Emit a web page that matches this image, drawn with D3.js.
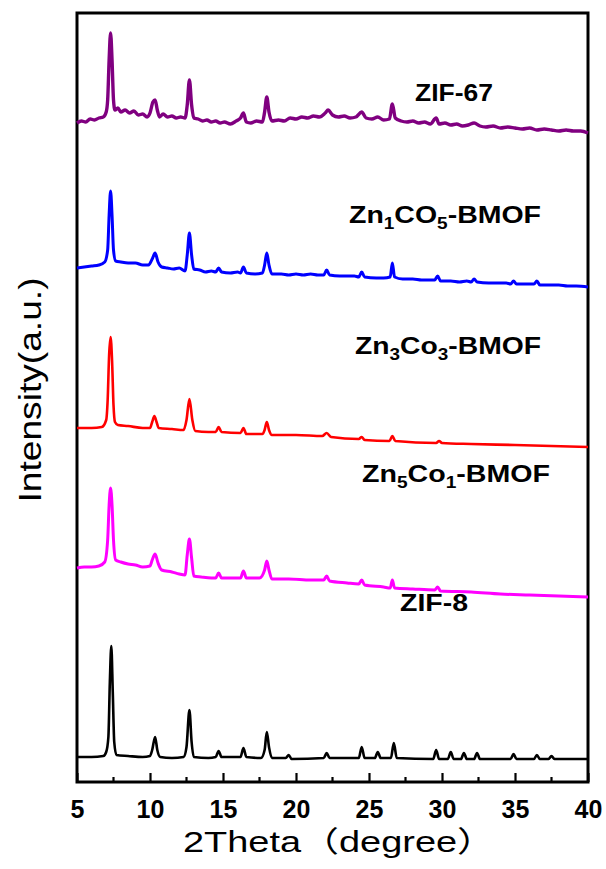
<!DOCTYPE html>
<html>
<head>
<meta charset="utf-8">
<script src="https://cdn.jsdelivr.net/npm/d3@7"></script>
<style>
  html, body { margin: 0; padding: 0; background: #fff; }
  svg { display: block; font-family: "Liberation Sans", Arial, "Noto Sans CJK SC", sans-serif; }
</style>
</head>
<body>
<div id="chart"></div>
<script>
// x ticks (2Theta, degree)
const xTicks = [5, 10, 15, 20, 25, 30, 35, 40];
const xMinorTicks = [7.5, 12.5, 17.5, 22.5, 27.5, 32.5, 37.5];

// series names, split into [text, isSubscript] parts
const seriesNames = ["ZIF-67", "Zn1CO5-BMOF", "Zn3Co3-BMOF", "Zn5Co1-BMOF", "ZIF-8"];
const seriesLabelParts = [
    [["ZIF-67", false]],
    [["Zn", false], ["1", true], ["CO", false], ["5", true], ["-BMOF", false]],
    [["Zn", false], ["3", true], ["Co", false], ["3", true], ["-BMOF", false]],
    [["Zn", false], ["5", true], ["Co", false], ["1", true], ["-BMOF", false]],
    [["ZIF-8", false]]
];
const seriesColors = ["#800080", "#0000ff", "#ff0000", "#ff00ff", "#000000"];

// patterns as stacked in the figure: [2theta, intensity (a.u.)]
const zif67 = [
    [5, 659], [5.3, 661], [5.6, 660], [5.9, 663], [6.2, 662], [6.5, 664], [6.8, 665], [7.0, 670],
    [7.1, 682], [7.2, 722], [7.3, 749], [7.4, 722], [7.5, 682], [7.6, 672], [7.8, 674], [8.0, 670],
    [8.3, 672], [8.6, 669], [8.9, 671], [9.2, 667], [9.5, 668], [9.8, 665], [10.0, 669], [10.2, 680],
    [10.35, 682], [10.5, 672], [10.65, 665], [10.9, 668], [11.2, 665], [11.5, 666], [11.8, 664],
    [12.1, 665], [12.4, 664], [12.55, 677], [12.7, 702], [12.85, 677], [13.0, 664], [13.3, 663],
    [13.6, 661], [13.9, 662], [14.2, 660], [14.5, 661], [14.8, 659], [15.1, 660], [15.5, 658],
    [15.9, 661], [16.2, 664], [16.4, 669], [16.6, 660], [16.9, 659], [17.3, 661], [17.7, 660],
    [17.85, 670], [18.0, 685], [18.15, 670], [18.35, 661], [18.8, 662], [19.2, 661], [19.6, 664],
    [20.0, 663], [20.4, 665], [20.8, 664], [21.2, 666], [21.6, 665], [22.0, 669], [22.2, 672],
    [22.5, 667], [22.9, 665], [23.3, 666], [23.7, 664], [24.1, 665], [24.5, 670], [24.8, 664],
    [25.2, 663], [25.6, 665], [26.0, 662], [26.4, 663], [26.6, 678], [26.8, 664], [27.2, 661],
    [27.6, 660], [28.0, 661], [28.4, 659], [28.8, 660], [29.2, 658], [29.6, 664], [29.8, 658],
    [30.2, 659], [30.6, 657], [31.0, 658], [31.4, 656], [31.8, 657], [32.2, 659], [32.6, 656],
    [33.0, 655], [33.5, 656], [34.0, 654], [34.5, 655], [35.0, 654], [35.5, 653], [36.0, 654],
    [36.5, 652], [37.0, 653], [37.5, 652], [38.0, 651], [38.5, 652], [39.0, 651], [39.5, 651], [40, 649]
];
const zn1co5 = [
    [5, 514], [5.5, 515], [6.0, 516], [6.5, 517], [6.9, 520], [7.1, 532], [7.2, 567], [7.3, 591],
    [7.4, 567], [7.5, 532], [7.65, 521], [8.0, 520], [8.5, 519], [9.0, 519], [9.5, 517], [9.9, 517],
    [10.15, 523], [10.35, 529], [10.55, 520], [10.8, 515], [11.2, 514], [11.6, 513], [12.0, 514],
    [12.4, 511], [12.55, 527], [12.7, 549], [12.85, 527], [13.0, 513], [13.4, 512], [13.8, 510],
    [14.2, 511], [14.5, 510], [14.7, 514], [14.9, 510], [15.5, 509], [16.0, 510], [16.2, 509],
    [16.4, 515], [16.6, 509], [17.2, 508], [17.7, 509], [17.85, 517], [18.0, 529], [18.15, 517],
    [18.35, 508], [19.0, 508], [19.5, 507], [20.0, 508], [20.5, 507], [21.0, 508], [21.5, 507],
    [21.9, 507], [22.1, 512], [22.3, 507], [23.0, 506], [23.5, 506], [24.0, 506], [24.3, 505],
    [24.5, 510], [24.7, 505], [25.5, 504], [26.0, 504], [26.45, 505], [26.6, 519], [26.75, 505],
    [27.3, 503], [28.0, 503], [28.6, 502], [29.2, 502], [29.5, 502], [29.7, 506], [29.9, 501],
    [30.6, 501], [31.2, 500], [31.7, 501], [32.0, 500], [32.2, 503], [32.4, 500], [33.2, 499],
    [33.8, 499], [34.4, 499], [34.7, 498], [34.9, 501], [35.1, 498], [35.9, 498], [36.3, 498],
    [36.5, 501], [36.7, 497], [37.4, 497], [38.0, 497], [38.6, 496], [39.2, 496], [40, 495]
];
const zn3co3 = [
    [5, 354], [6, 354], [6.7, 355], [7.0, 362], [7.1, 382], [7.2, 427], [7.3, 445], [7.4, 422],
    [7.5, 377], [7.6, 360], [7.8, 357], [8.5, 356], [9.5, 354], [10.0, 354], [10.15, 360],
    [10.3, 366], [10.45, 360], [10.6, 354], [11.5, 353], [12.3, 352], [12.5, 362], [12.7, 383],
    [12.9, 362], [13.1, 351], [14.0, 350], [14.5, 350], [14.7, 355], [14.9, 350], [16.2, 349],
    [16.4, 354], [16.6, 348], [17.7, 348], [17.85, 352], [18.0, 360], [18.15, 352], [18.35, 347],
    [20.0, 347], [21.8, 346], [22.1, 349], [22.4, 345], [24.3, 343], [24.5, 345], [24.7, 342],
    [26.4, 341], [26.6, 346], [26.8, 341], [29.6, 339], [29.8, 341], [30.0, 339], [32, 338],
    [35, 337], [37.5, 336], [40, 335]
];
const zn5co1 = [
    [5, 214], [5.5, 215], [6.0, 215], [6.5, 216], [6.9, 220], [7.1, 242], [7.2, 277], [7.3, 294],
    [7.4, 277], [7.5, 242], [7.65, 222], [8.0, 220], [8.5, 218], [9.0, 217], [9.5, 215], [10.0, 216],
    [10.15, 222], [10.35, 228], [10.55, 219], [10.8, 212], [11.5, 210], [12.0, 208], [12.4, 207],
    [12.55, 227], [12.7, 243], [12.85, 224], [13.0, 206], [13.5, 205], [14.2, 204], [14.5, 204],
    [14.7, 209], [14.9, 204], [15.8, 204], [16.2, 204], [16.4, 211], [16.6, 204], [17.5, 204],
    [17.85, 212], [18.0, 221], [18.15, 212], [18.35, 203], [19.5, 203], [21.0, 202], [21.9, 202],
    [22.1, 206], [22.3, 201], [23.5, 199], [24.3, 198], [24.5, 202], [24.7, 197], [26.0, 195],
    [26.45, 194], [26.6, 202], [26.75, 194], [28.0, 193], [29.5, 192], [29.7, 195], [29.9, 191],
    [32.0, 190], [34.0, 188], [36.0, 187], [38.0, 186], [40, 185]
];
const zif8 = [
    [5, 25], [6, 25], [6.8, 26], [7.0, 30], [7.15, 45], [7.25, 100], [7.35, 136], [7.45, 90],
    [7.55, 40], [7.7, 27], [8.5, 26], [9.5, 25], [10.0, 26], [10.15, 32], [10.35, 45], [10.5, 32],
    [10.7, 25], [11.5, 24], [12.3, 25], [12.5, 35], [12.7, 72], [12.85, 40], [13.0, 25], [14.0, 24],
    [14.5, 25], [14.7, 31], [14.9, 25], [16.2, 25], [16.4, 34], [16.6, 25], [17.6, 24], [17.85, 32],
    [18.0, 50], [18.15, 35], [18.35, 24], [19.3, 24], [19.5, 27], [19.7, 23], [21.9, 24], [22.1, 29],
    [22.3, 24], [24.3, 24], [24.5, 35], [24.7, 24], [25.4, 24], [25.6, 30], [25.8, 24], [26.5, 24],
    [26.7, 39], [26.9, 24], [29.4, 23], [29.6, 32], [29.8, 23], [30.4, 23], [30.6, 30], [30.8, 23],
    [31.3, 23], [31.5, 29], [31.7, 23], [32.2, 23], [32.4, 29], [32.6, 23], [34.7, 23], [34.9, 28],
    [35.1, 23], [36.3, 23], [36.5, 27], [36.7, 23], [37.3, 23], [37.5, 26], [37.7, 23], [40, 23]
];
const seriesData = [zif67, zn1co5, zn3co3, zn5co1, zif8];

// layout
const W = 606, H = 869;
const margin = { left: 77, right: 18, top: 13, bottom: 87 };
const frameWidth = 3;
const lineWidths = [3.4, 3, 2.6, 3, 2.6];
const labelPos = [
    { x: 415, y: 101, len: 78 },
    { x: 349, y: 223, len: 192 },
    { x: 355, y: 354, len: 186 },
    { x: 362, y: 482, len: 188 },
    { x: 400, y: 611, len: 68 }
];

const svg = d3.select('#chart').append('svg')
    .attr('width', W)
    .attr('height', H);

const x = d3.scaleLinear().domain([5, 40]).range([margin.left, W - margin.right]);
const y = d3.scaleLinear().domain([0, 769]).range([H - margin.bottom, margin.top]);
const [xl, xr] = x.range();
const [yBot, yTop] = y.range();

// frame: black box with a white box inside
svg.append('rect')
    .attr('x', xl - frameWidth / 2)
    .attr('y', yTop - frameWidth / 2)
    .attr('width', xr - xl + frameWidth)
    .attr('height', yBot - yTop + frameWidth)
    .attr('fill', '#000');
svg.append('rect')
    .attr('x', xl + frameWidth / 2)
    .attr('y', yTop + frameWidth / 2)
    .attr('width', xr - xl - frameWidth)
    .attr('height', yBot - yTop - frameWidth)
    .attr('fill', '#fff');

// patterns
const line = d3.line()
    .x(d => x(d[0]))
    .y(d => y(d[1]))
    .curve(d3.curveMonotoneX);

seriesData.forEach((data, i) => {
    svg.append('path')
        .datum(data)
        .attr('fill', 'none')
        .attr('stroke', seriesColors[i])
        .attr('stroke-width', lineWidths[i])
        .attr('stroke-linejoin', 'round')
        .attr('d', line);
});

// series labels
seriesLabelParts.forEach((parts, i) => {
    const t = svg.append('text')
        .attr('x', labelPos[i].x)
        .attr('y', labelPos[i].y)
        .attr('font-size', 24)
        .attr('font-weight', 'bold')
        .attr('fill', '#000')
        .attr('textLength', labelPos[i].len)
        .attr('lengthAdjust', 'spacingAndGlyphs');
    let shifted = false;
    parts.forEach(([s, sub]) => {
        const span = t.append('tspan').text(s);
        if (sub && !shifted) { span.attr('dy', 6).attr('font-size', 16); shifted = true; }
        else if (sub) { span.attr('font-size', 16); }
        else if (shifted) { span.attr('dy', -6); shifted = false; }
    });
});

// bottom axis, ticks pointing inward
const xAxis = svg.append('g')
    .attr('transform', `translate(0,${yBot})`)
    .call(d3.axisBottom(x).tickValues(xTicks).tickSizeInner(-9).tickSizeOuter(0).tickPadding(0).tickFormat(d3.format('d')));
xAxis.select('.domain').remove();
xAxis.selectAll('.tick line').attr('stroke', '#000').attr('stroke-width', 2.2);
xAxis.selectAll('.tick text')
    .attr('y', 36)
    .attr('dy', 0)
    .attr('font-size', 25)
    .attr('font-weight', 'bold')
    .attr('font-family', '"Liberation Sans", Arial, sans-serif')
    .attr('fill', '#000');

svg.append('g')
    .selectAll('line')
    .data(xMinorTicks)
    .join('line')
    .attr('x1', d => x(d))
    .attr('x2', d => x(d))
    .attr('y1', yBot)
    .attr('y2', yBot - 5)
    .attr('stroke', '#000')
    .attr('stroke-width', 2.2);

// axis titles
svg.append('text')
    .attr('x', 183)
    .attr('y', 852)
    .attr('font-size', 29)
    .attr('fill', '#000')
    .attr('textLength', 312)
    .attr('lengthAdjust', 'spacingAndGlyphs')
    .text('2Theta（degree）');

svg.append('text')
    .attr('transform', 'translate(41,390) rotate(-90)')
    .attr('text-anchor', 'middle')
    .attr('font-size', 32)
    .attr('fill', '#000')
    .attr('textLength', 225)
    .attr('lengthAdjust', 'spacingAndGlyphs')
    .text('Intensity(a.u.)');
</script>
</body>
</html>
